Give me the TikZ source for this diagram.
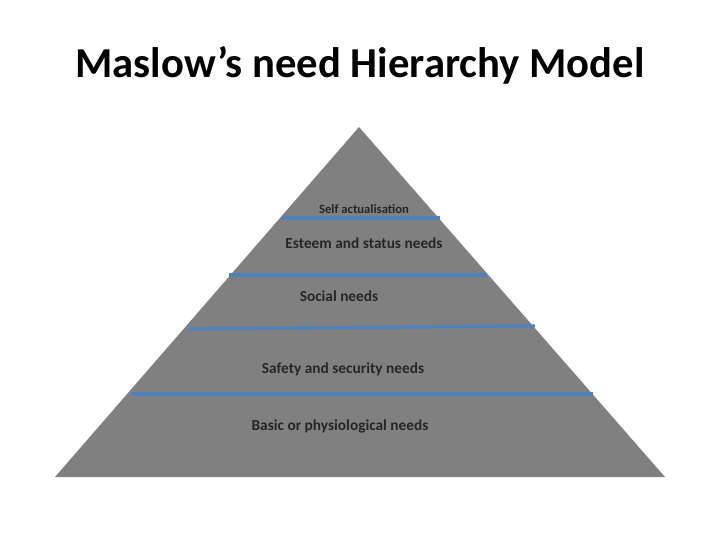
\documentclass[tikz,border=0pt]{standalone}
\usepackage{fontspec}
\setmainfont{Carlito}
\begin{document}
\begin{tikzpicture}[x=0.75pt,y=-0.75pt,
  lvl/.style={line width=2.4pt},
  lab/.style={font=\bfseries\fontsize{11.5}{13}\selectfont, text=black!85}]
\useasboundingbox (0,0) rectangle (720,540);
\fill[white] (0,0) rectangle (720,540);
\node[font=\bfseries\fontsize{32}{38}\selectfont] (title) at (360,65) {Maslow{\char39}s need Hierarchy Model};
\fill[black!50] (359,127) -- (665,477) -- (55,477) -- cycle;
\coordinate (a1) at (282,218); \coordinate (b1) at (440,218);
\coordinate (a2) at (229,275); \coordinate (b2) at (487,275);
\coordinate (a3) at (189,329); \coordinate (b3) at (535,326);
\coordinate (a4) at (131,394); \coordinate (b4) at (593,394);
\foreach \i in {1,...,4} \draw[lvl, draw={rgb,255:red,79;green,129;blue,189}] (a\i) -- (b\i);
\node[font=\bfseries\fontsize{9.5}{11}\selectfont, text=black!85] (l1) at (364,209) {Self actualisation};
\node[lab] (l2) at (364,243) {Esteem and status needs};
\node[lab] (l3) at (339,296) {Social needs};
\node[lab] (l4) at (343,369) {Safety and security needs};
\node[lab] (l5) at (340,426) {Basic or physiological needs};
\end{tikzpicture}
\end{document}
